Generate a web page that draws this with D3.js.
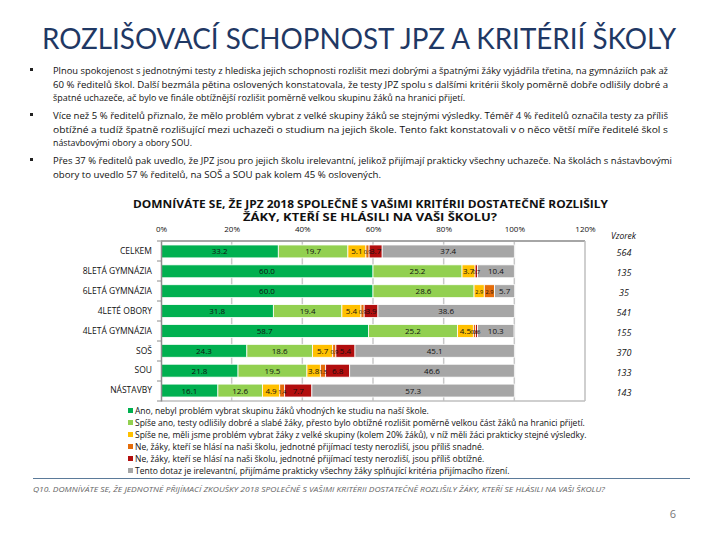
<!DOCTYPE html>
<html><head><meta charset="utf-8">
<script src="https://cdn.jsdelivr.net/npm/d3@7"></script>
<style>
html,body{margin:0;padding:0;background:#fff;}
svg{display:block;font-family:"Liberation Sans Narrow","Open Sans",sans-serif;}
</style></head>
<body>
<script>
const categories = ["CELKEM","8LETÁ GYMNÁZIA","6LETÁ GYMNÁZIA","4LETÉ OBORY","4LETÁ GYMNÁZIA","SOŠ","SOU","NÁSTAVBY"];
const seriesNames = [
 "Ano, nebyl problém vybrat skupinu žáků vhodných ke studiu na naší škole.",
 "Spíše ano, testy odlišily dobré a slabé žáky, přesto bylo obtížné rozlišit poměrně velkou část žáků na hranici přijetí.",
 "Spíše ne, měli jsme problém vybrat žáky z velké skupiny (kolem 20% žáků), v níž měli žáci prakticky stejné výsledky.",
 "Ne, žáky, kteří se hlásí na naši školu, jednotné přijímací testy nerozliší, jsou příliš snadné.",
 "Ne, žáky, kteří se hlásí na naši školu, jednotné přijímací testy nerozliší, jsou příliš obtížné.",
 "Tento dotaz je irelevantní, přijímáme prakticky všechny žáky splňující kritéria přijímacího řízení."
];
const anoValues      = [33.2, 60.0, 60.0, 31.8, 58.7, 24.3, 21.8, 16.1];
const spiseAnoValues = [19.7, 25.2, 28.6, 19.4, 25.2, 18.6, 19.5, 12.6];
const spiseNeValues  = [5.1, 3.7, 2.9, 5.4, 4.5, 5.7, 3.8, 4.9];
const snadneValues   = [0.9, 0, 2.9, 0.9, 0.6, 0.9, 1.5, 1.4];
const obtizneValues  = [3.7, 0.7, 0, 3.9, 0.6, 5.4, 6.8, 7.7];
const irelevValues   = [37.4, 10.4, 5.7, 38.6, 10.3, 45.1, 46.6, 57.3];
const sampleSizes    = [564, 135, 35, 541, 155, 370, 133, 143];
const xTicks = [0, 20, 40, 60, 80, 100, 120];
const colors = ["#00B050","#92D050","#FFC000","#E46C0A","#B20E0E","#A6A6A6"];

const seriesValues = [anoValues, spiseAnoValues, spiseNeValues, snadneValues, obtizneValues, irelevValues];

const W = 720, H = 540;
const svg = d3.select("body").append("svg").attr("width", W).attr("height", H);

// Main title
svg.append("text").attr("x", 42).attr("y", 49)
  .attr("textLength", 634).attr("lengthAdjust", "spacingAndGlyphs")
  .style("font-family", "Lato, 'Open Sans', sans-serif")
  .style("font-size", "28px").style("fill", "#1F3864")
  .text("ROZLIŠOVACÍ SCHOPNOST JPZ A KRITÉRIÍ ŠKOLY");

// Bullets
const paragraphs = [
  {y: 74, lines: [
    ["Plnou spokojenost s jednotnými testy z hlediska jejich schopnosti rozlišit mezi dobrými a špatnými žáky vyjádřila třetina, na gymnáziích pak až", 615],
    ["60 % ředitelů škol. Další bezmála pětina oslovených konstatovala, že testy JPZ spolu s dalšími kritérii školy poměrně dobře odlišily dobré a", 615],
    ["špatné uchazeče, ač bylo ve finále obtížnější rozlišit poměrně velkou skupinu žáků na hranici přijetí.", 412]]},
  {y: 119, lines: [
    ["Více než 5 % ředitelů přiznalo, že mělo problém vybrat z velké skupiny žáků se stejnými výsledky. Téměř 4 % ředitelů označila testy za příliš", 615],
    ["obtížné a tudíž špatně rozlišující mezi uchazeči o studium na jejich škole. Tento fakt konstatovali v o něco větší míře ředitelé škol s", 615],
    ["nástavbovými obory a obory SOU.", 139]]},
  {y: 164, lines: [
    ["Přes 37 % ředitelů pak uvedlo, že JPZ jsou pro jejich školu irelevantní, jelikož přijímají prakticky všechny uchazeče.  Na školách s nástavbovými", 619],
    ["obory to uvedlo 57 % ředitelů, na SOŠ a SOU pak kolem 45 % oslovených.", 328]]}
];
paragraphs.forEach(p => {
  svg.append("rect").attr("x", 30).attr("y", p.y - 6).attr("width", 3).attr("height", 3).attr("fill", "#222");
  p.lines.forEach((l, i) => {
    svg.append("text").attr("x", 53).attr("y", p.y + i * 13.7)
      .attr("textLength", l[1]).attr("lengthAdjust", "spacingAndGlyphs")
      .style("font-size", "9.5px").style("fill", "#111").text(l[0]);
  });
});

// Chart title
svg.append("text").attr("x", 133).attr("y", 208).attr("textLength", 475).attr("lengthAdjust", "spacingAndGlyphs")
  .style("font-size", "10.5px").style("font-weight", "bold").style("fill", "#111")
  .text("DOMNÍVÁTE SE, ŽE JPZ 2018 SPOLEČNĚ S VAŠIMI KRITÉRII DOSTATEČNĚ ROZLIŠILY");
svg.append("text").attr("x", 243).attr("y", 221).attr("textLength", 254).attr("lengthAdjust", "spacingAndGlyphs")
  .style("font-size", "10.5px").style("font-weight", "bold").style("fill", "#111")
  .text("ŽÁKY, KTEŘÍ SE HLÁSILI NA VAŠI ŠKOLU?");

// Scales
const plotTop = 241, plotBottom = 401;
const x = d3.scaleLinear().domain([0, 120]).range([161, 585]);
const y = d3.scaleBand().domain(categories).range([plotTop, plotBottom]).paddingInner(0.35).paddingOuter(0.2);

// Gridlines
svg.append("g").selectAll("line").data(xTicks.slice(1, -1)).join("line")
  .attr("x1", d => x(d)).attr("x2", d => x(d)).attr("y1", plotTop).attr("y2", plotBottom)
  .attr("stroke", "#C8C8C8").attr("stroke-width", 1.5);

// Plot border (top, right, bottom)
svg.append("line").attr("x1", x(0)).attr("x2", x(120)).attr("y1", plotTop).attr("y2", plotTop).attr("stroke", "#A6A6A6").attr("stroke-width", 2);
svg.append("line").attr("x1", x(120)).attr("x2", x(120)).attr("y1", plotTop).attr("y2", plotBottom).attr("stroke", "#BFBFBF").attr("stroke-width", 1.5);
svg.append("line").attr("x1", x(0)).attr("x2", x(120)).attr("y1", plotBottom).attr("y2", plotBottom).attr("stroke", "#BFBFBF").attr("stroke-width", 1.5);

// Top axis labels
const xAxis = svg.append("g").attr("transform", `translate(0,${plotTop - 6})`)
  .call(d3.axisTop(x).tickValues(xTicks).tickFormat(d => d + "%").tickSize(0));
xAxis.select(".domain").remove();
xAxis.selectAll("text").style("font-size", "8px").style("font-family", "'Liberation Sans Narrow','Open Sans',sans-serif").attr("fill", "#111");

// Stacked bars
const stackData = categories.map((c, i) => {
  const o = {cat: c};
  seriesValues.forEach((s, k) => o["s" + k] = s[i]);
  return o;
});
const keys = seriesValues.map((s, k) => "s" + k);
const stacked = d3.stack().keys(keys)(stackData);

const gBars = svg.append("g");
stacked.forEach((layer, k) => {
  const g = gBars.append("g").attr("fill", colors[k]);
  g.selectAll("rect").data(layer.filter(d => d[1] - d[0] > 0)).join("rect")
    .attr("x", d => x(d[0])).attr("width", d => x(d[1]) - x(d[0]))
    .attr("y", d => y(d.data.cat)).attr("height", y.bandwidth())
    .attr("stroke", "#fff").attr("stroke-width", 0.8);
});
stacked.forEach((layer, k) => {
  gBars.append("g").selectAll("text").data(layer.filter(d => d[1] - d[0] > 0)).join("text")
    .attr("x", d => (x(d[0]) + x(d[1])) / 2)
    .attr("y", d => y(d.data.cat) + y.bandwidth() / 2 + 3)
    .attr("text-anchor", "middle")
    .style("font-size", d => (d[1] - d[0]) < 3 ? "5.5px" : "8px").style("fill", "#111")
    .text(d => (d[1] - d[0]).toFixed(1));
});

// Left axis
const yAxis = svg.append("g").attr("transform", `translate(${x(0)},0)`)
  .call(d3.axisLeft(y).tickSize(0).tickPadding(9));
yAxis.select(".domain").attr("stroke", "#8C8C8C").attr("stroke-width", 1.5);
yAxis.selectAll("text").style("font-size", "8.5px").style("font-family", "'Liberation Sans Narrow','Open Sans',sans-serif").attr("fill", "#111");
// boundary tick marks
svg.append("g").selectAll("line").data(d3.range(categories.length + 1)).join("line")
  .attr("x1", x(0) - 4).attr("x2", x(0))
  .attr("y1", i => plotTop + i * (plotBottom - plotTop) / categories.length)
  .attr("y2", i => plotTop + i * (plotBottom - plotTop) / categories.length)
  .attr("stroke", "#8C8C8C").attr("stroke-width", 1);

// Sample size column
svg.append("text").attr("x", 611).attr("y", 239)
  .style("font-size", "8.5px").style("font-style", "italic").style("fill", "#111").text("Vzorek");
svg.append("g").selectAll("text").data(categories).join("text")
  .attr("x", 624).attr("y", (d) => y(d) + y.bandwidth() / 2 + 5)
  .attr("text-anchor", "middle")
  .style("font-size", "9px").style("font-style", "italic").style("fill", "#111")
  .text((d, i) => sampleSizes[i]);

// Legend
const leg = svg.append("g");
seriesNames.forEach((n, i) => {
  const ly = 411 + i * 12;
  leg.append("rect").attr("x", 128).attr("y", ly - 3).attr("width", 5).attr("height", 5).attr("fill", colors[i]);
  leg.append("text").attr("x", 135).attr("y", ly + 3)
    .style("font-size", "8.5px").style("fill", "#111").text(n);
});

// Bottom line and footnote
svg.append("line").attr("x1", 33).attr("x2", 690).attr("y1", 478.5).attr("y2", 478.5).attr("stroke", "#5B7A99").attr("stroke-width", 1.2);
svg.append("text").attr("x", 33).attr("y", 492).attr("textLength", 572).attr("lengthAdjust", "spacingAndGlyphs")
  .style("font-size", "6.5px").style("font-style", "italic").style("fill", "#666")
  .text("Q10. DOMNÍVÁTE SE, ŽE JEDNOTNÉ PŘIJÍMACÍ ZKOUŠKY 2018 SPOLEČNĚ S VAŠIMI KRITÉRII DOSTATEČNĚ ROZLIŠILY ŽÁKY, KTEŘÍ SE HLÁSILI NA VAŠI ŠKOLU?");
svg.append("text").attr("x", 676).attr("y", 518).attr("text-anchor", "end")
  .style("font-size", "11px").style("fill", "#777").text("6");
</script>
</body></html>
